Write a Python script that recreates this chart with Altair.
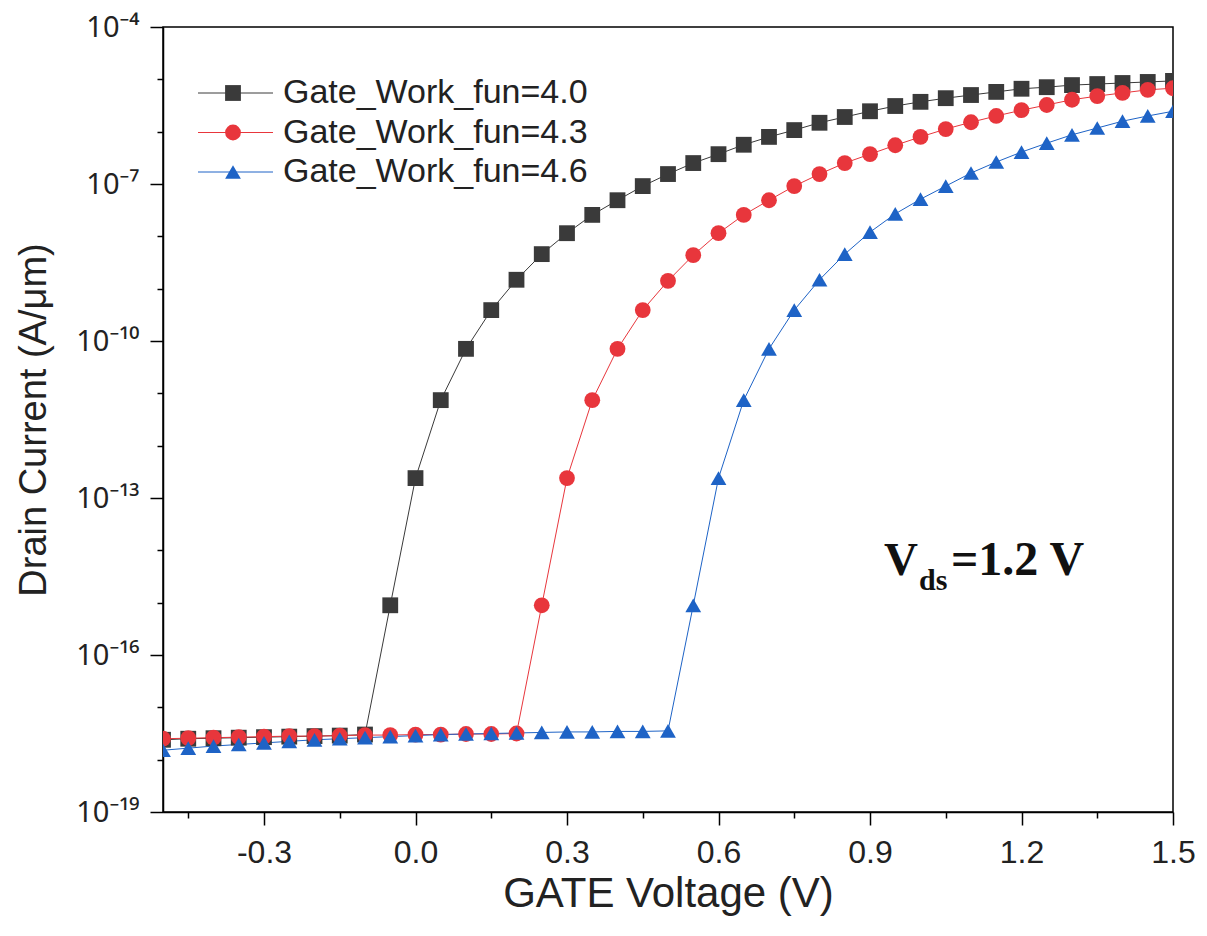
import altair as alt
import pandas as pd

# ---- data ----
series = ["Gate_Work_fun=4.0", "Gate_Work_fun=4.3", "Gate_Work_fun=4.6"]
colors = ["#3a3a3a", "#e8363c", "#1e63c6"]
shapes = ["square", "circle", "triangle-up"]

gate_v = [-0.50, -0.45, -0.40, -0.35, -0.30, -0.25, -0.20, -0.15, -0.10, -0.05,
          0.00, 0.05, 0.10, 0.15, 0.20, 0.25, 0.30, 0.35, 0.40, 0.45,
          0.50, 0.55, 0.60, 0.65, 0.70, 0.75, 0.80, 0.85, 0.90, 0.95,
          1.00, 1.05, 1.10, 1.15, 1.20, 1.25, 1.30, 1.35, 1.40, 1.45, 1.50]

# log10 of drain current (A/um)
log_id_40 = [-17.62, -17.60, -17.59, -17.58, -17.57, -17.56, -17.55, -17.54, -17.52, -15.05,
             -12.62, -11.13, -10.15, -9.41, -8.83, -8.34, -7.94, -7.59, -7.31, -7.04,
             -6.81, -6.60, -6.43, -6.25, -6.10, -5.97, -5.83, -5.72, -5.61, -5.51,
             -5.43, -5.36, -5.30, -5.24, -5.18, -5.15, -5.11, -5.09, -5.07, -5.05, -5.03]
log_id_43 = [-17.60, -17.59, -17.58, -17.57, -17.56, -17.55, -17.55, -17.54, -17.53, -17.53,
             -17.52, -17.52, -17.51, -17.51, -17.50, -15.05, -12.62, -11.13, -10.15, -9.41,
             -8.85, -8.36, -7.94, -7.59, -7.31, -7.04, -6.81, -6.60, -6.43, -6.26,
             -6.10, -5.95, -5.82, -5.70, -5.59, -5.49, -5.39, -5.32, -5.26, -5.20, -5.17]
log_id_46 = [-17.82, -17.78, -17.74, -17.71, -17.68, -17.65, -17.62, -17.60, -17.58, -17.56,
             -17.54, -17.52, -17.51, -17.50, -17.49, -17.48, -17.47, -17.47, -17.46, -17.46,
             -17.45, -15.05, -12.62, -11.13, -10.15, -9.41, -8.83, -8.34, -7.92, -7.57,
             -7.29, -7.04, -6.79, -6.58, -6.39, -6.22, -6.06, -5.93, -5.80, -5.70, -5.61]

y_tick_values = [10.0 ** -e for e in range(4, 20)]
x_tick_values = [-0.45, -0.30, -0.15, 0.0, 0.15, 0.30, 0.45, 0.60, 0.75, 0.90,
                 1.05, 1.20, 1.35, 1.50]

rows = []
for name, logs in zip(series, [log_id_40, log_id_43, log_id_46]):
    for v, lg in zip(gate_v, logs):
        rows.append({"series": name, "vg": v, "id": 10.0 ** lg})
df = pd.DataFrame(rows)

FONT = "Liberation Sans"
SUPFONT = "Noto Sans"

color_scale = alt.Scale(domain=series, range=colors)
shape_scale = alt.Scale(domain=series, range=shapes)
x_scale = alt.Scale(domain=[-0.5, 1.5], nice=False, zero=False)
y_scale = alt.Scale(type="log", domain=[1e-19, 1e-4], nice=False)

y_label_expr = (
    "datum.value < 2e-4 && datum.value > 5e-5 ? '10\u207b\u2074' : "
    "datum.value < 2e-7 && datum.value > 5e-8 ? '10\u207b\u2077' : "
    "datum.value < 2e-10 && datum.value > 5e-11 ? '10\u207b\u00b9\u2070' : "
    "datum.value < 2e-13 && datum.value > 5e-14 ? '10\u207b\u00b9\u00b3' : "
    "datum.value < 2e-16 && datum.value > 5e-17 ? '10\u207b\u00b9\u2076' : "
    "datum.value < 2e-19 && datum.value > 5e-20 ? '10\u207b\u00b9\u2079' : ''"
)
y_major_test = "abs(round(log(datum.value)/LN10)) % 3 == 1"
x_major_test = "abs(round(datum.value*100)) % 30 == 0"

x_axis = alt.Axis(
    values=x_tick_values,
    labelExpr=f"{x_major_test} ? replace(format(datum.value, '.1f'), '\u2212', '-') : ''",
    tickSize={"condition": {"test": x_major_test, "value": 13}, "value": 6},
    tickColor="black", tickWidth=1.5, domainColor="black", domainWidth=1.5,
    labelFont=FONT, labelFontSize=32, labelColor="#222222", labelPadding=12,
    labelFlush=False, labelOverlap=False,
    title="GATE Voltage (V)", titleFont=FONT, titleFontSize=42,
    titleFontWeight="normal", titleColor="#222222", titlePadding=5, grid=False,
)
y_axis = alt.Axis(
    values=y_tick_values,
    labelExpr=y_label_expr,
    tickSize={"condition": {"test": y_major_test, "value": 13}, "value": 6},
    tickColor="black", tickWidth=1.5, domainColor="black", domainWidth=1.5,
    labelFont=SUPFONT, labelFontSize=29, labelColor="#222222", labelPadding=11,
    labelFlush=False, labelOverlap=False,
    title="Drain Current (A/\u03bcm)", titleFont=FONT, titleFontSize=38,
    titleFontWeight="normal", titleColor="#222222", titlePadding=22, grid=False,
)

lines = alt.Chart(df).mark_line(strokeWidth=1, clip=True).encode(
    x=alt.X("vg:Q", scale=x_scale, axis=x_axis),
    y=alt.Y("id:Q", scale=y_scale, axis=y_axis),
    color=alt.Color("series:N", scale=color_scale, legend=None),
    detail="series:N",
)
points = alt.Chart(df).mark_point(filled=True, opacity=1, size=250, clip=True).encode(
    x=alt.X("vg:Q", scale=x_scale, axis=x_axis),
    y=alt.Y("id:Q", scale=y_scale, axis=y_axis),
    color=alt.Color("series:N", scale=color_scale, legend=None),
    shape=alt.Shape("series:N", scale=shape_scale, legend=None),
    order=alt.Order("series:N"),
)
main = alt.layer(lines, points)

# ---- legend built from the series list ----
leg_df = pd.DataFrame({"series": series})
leg_y = alt.Y("series:N", scale=alt.Scale(type="point", domain=series, range=[66, 145], padding=0),
              axis=None)
leg_line = alt.Chart(leg_df).mark_rule(strokeWidth=1).encode(
    x=alt.value(35), x2=alt.value(110), y=leg_y,
    color=alt.Color("series:N", scale=color_scale, legend=None),
)
leg_pt = alt.Chart(leg_df).mark_point(filled=True, opacity=1, size=250).encode(
    x=alt.value(70), y=leg_y,
    color=alt.Color("series:N", scale=color_scale, legend=None),
    shape=alt.Shape("series:N", scale=shape_scale, legend=None),
)
leg_txt = alt.Chart(leg_df).mark_text(
    align="left", baseline="middle", font=FONT, fontSize=34, color="#222222"
).encode(x=alt.value(120), y=leg_y, text="series:N")
legend = alt.layer(leg_line, leg_pt, leg_txt)

# ---- V_ds annotation ----
one = pd.DataFrame({"a": [0]})
SERIF = "Liberation Serif"
t_v = alt.Chart(one).mark_text(text="V", align="left", baseline="alphabetic",
                               font=SERIF, fontWeight="bold", fontSize=47, color="#111111"
                               ).encode(x=alt.value(721), y=alt.value(548))
t_ds = alt.Chart(one).mark_text(text="ds", align="left", baseline="alphabetic",
                                font=SERIF, fontWeight="bold", fontSize=30, color="#111111"
                                ).encode(x=alt.value(756), y=alt.value(563))
t_rest = alt.Chart(one).mark_text(text="=1.2 V", align="left", baseline="alphabetic",
                                  font=SERIF, fontWeight="bold", fontSize=48, color="#111111"
                                  ).encode(x=alt.value(788), y=alt.value(548))
annot = alt.layer(t_v, t_ds, t_rest)

chart = alt.layer(main, legend, annot).resolve_scale(y="independent").properties(
    width=1010, height=785,
    autosize=alt.AutoSizeParams(type="none"),
    padding={"left": 155, "top": 19, "right": 26, "bottom": 116},
    background="white",
).configure_view(stroke="black", strokeWidth=1.5)

chart.save("out.html", embed_options={"renderer": "svg", "actions": False})
